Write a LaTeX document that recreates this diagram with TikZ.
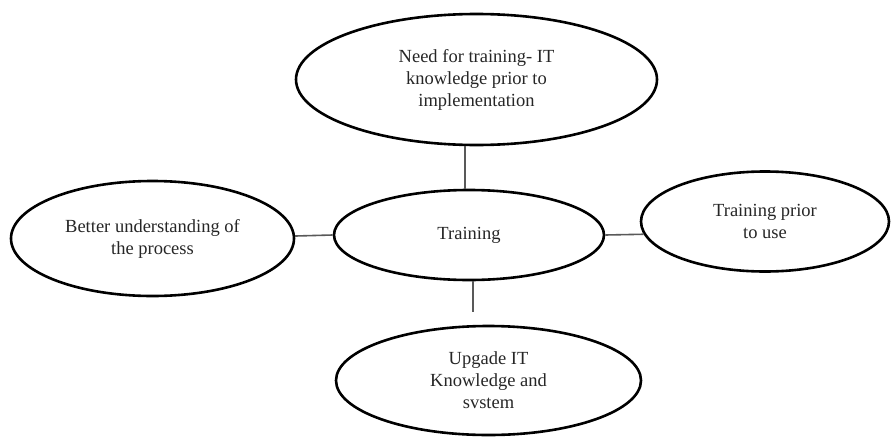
\documentclass[tikz,border=0pt]{standalone}
\usepackage{fontspec}
\setmainfont{Liberation Serif}
\usetikzlibrary{shapes.geometric}
\begin{document}
\begin{tikzpicture}[x=1pt,y=-1pt,
  bub/.style={draw=black, line width=2.6pt, ellipse, inner sep=0pt, align=center,
    font=\fontsize{18.5}{22}\selectfont, text=black!85},
  link/.style={draw=black!65, line width=1.6pt}]
\useasboundingbox (0,0) rectangle (893,439);
\node[bub, minimum width=361pt, minimum height=131pt] (top) at (476.5,79.5)
  {Need for training- IT\\knowledge prior to\\implementation};
\node[bub, minimum width=270pt, minimum height=90pt] (ctr) at (469,235) {Training};
\node[bub, minimum width=283pt, minimum height=115pt] (lft) at (152.5,238.5)
  {Better understanding of\\the process};
\node[bub, minimum width=248pt, minimum height=100pt] (rgt) at (765,221.5)
  {Training prior\\to use};
\node[bub, minimum width=305pt, minimum height=109pt] (bot) at (488.5,380.5)
  {Upgade IT\\Knowledge and\\svstem};
\coordinate (botend) at (473,312);
\draw[link] (ctr.north -| 465,0) -- (465,146);
\draw[link] (lft.1.4) -- (ctr.west);
\draw[link] (ctr.east) -- (rgt.186.6);
\draw[link] (ctr.south -| botend) -- (botend);
\end{tikzpicture}
\end{document}
